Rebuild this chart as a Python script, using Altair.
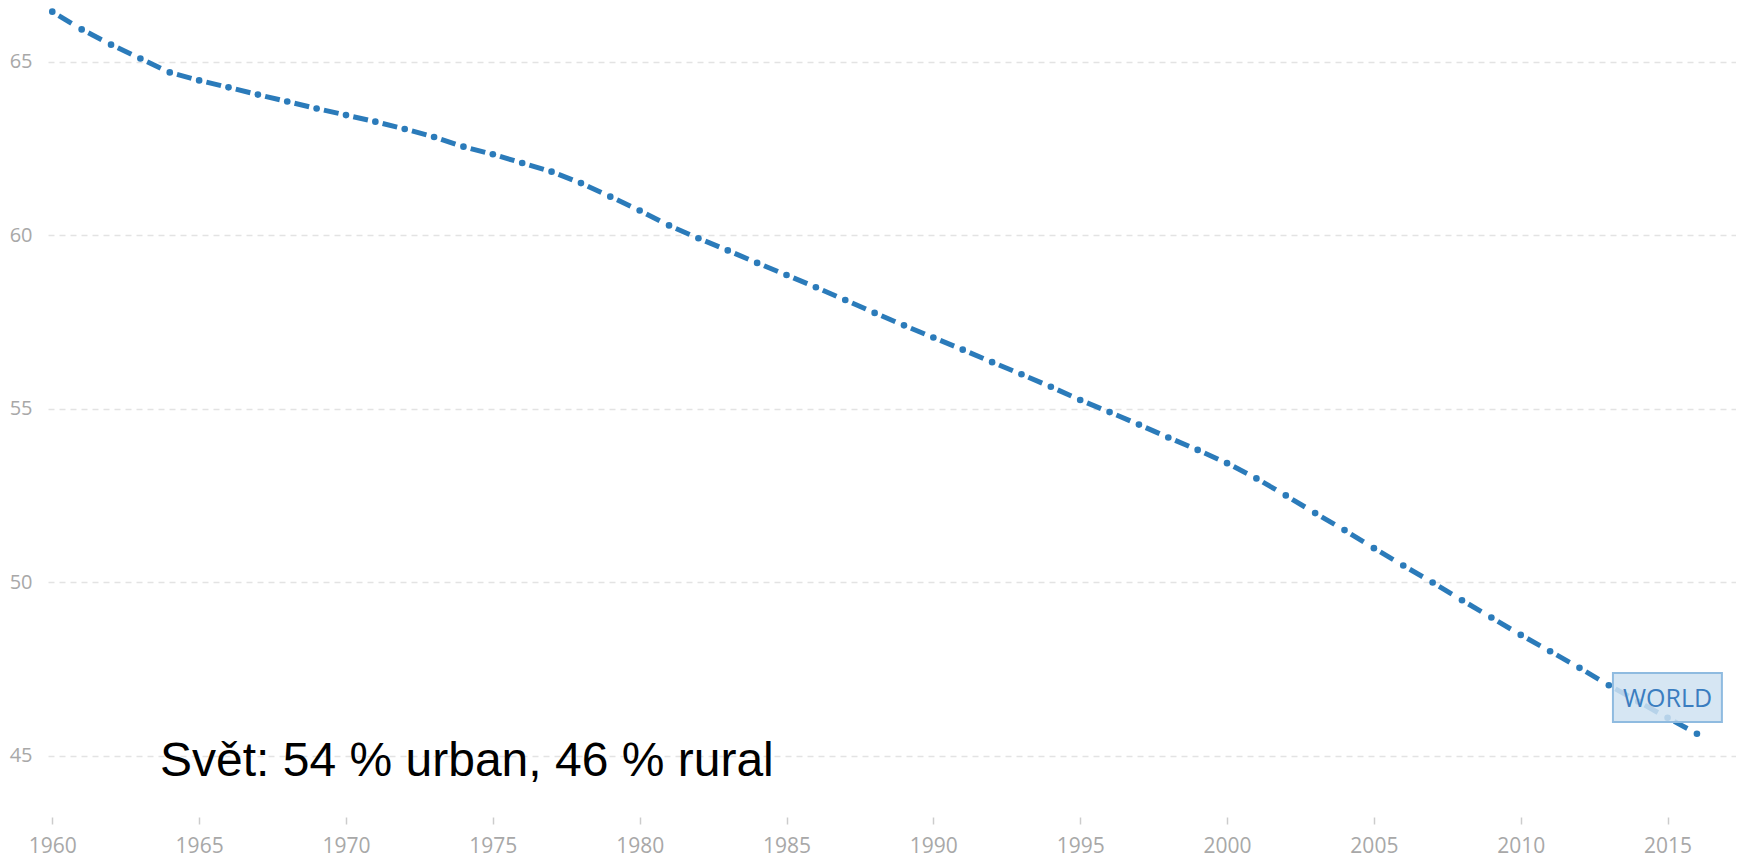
import altair as alt
import pandas as pd

# Rural population (% of total), World
years = list(range(1960, 2017))
rural = [66.45, 65.94, 65.50, 65.10, 64.70, 64.47, 64.27, 64.06, 63.86, 63.66,
         63.47, 63.28, 63.07, 62.84, 62.56, 62.34, 62.09, 61.84, 61.51, 61.12,
         60.72, 60.29, 59.92, 59.57, 59.21, 58.86, 58.51, 58.14, 57.77, 57.41,
         57.06, 56.71, 56.35, 56.00, 55.64, 55.26, 54.91, 54.55, 54.18, 53.82,
         53.44, 53.00, 52.51, 52.00, 51.51, 50.99, 50.49, 50.00, 49.49, 48.99,
         48.49, 48.02, 47.54, 47.04, 46.57, 46.10, 45.64]

x_ticks = list(range(1960, 2016, 5))
y_ticks = [45, 50, 55, 60, 65]

annotation_text = ["Svět: 54 % urban, 46 % rural"]
annotation_year = [1963.67]
annotation_value = [44.435]

series_label = ["WORLD"]
label_year = [2015.0]
label_value = [46.40]
label_box_year = [2013.14]
label_box_year2 = [2016.85]
label_box_value = [45.98]
label_box_value2 = [47.39]

BLUE = "#2b7bba"
GREY = "#a8a8a8"

pts = pd.DataFrame({"year": years, "value": rural})
seg = pd.DataFrame({
    "year": years[:-1], "value": rural[:-1],
    "year2": years[1:], "value2": rural[1:],
})
ann = pd.DataFrame({"year": annotation_year, "value": annotation_value, "text": annotation_text})
lab = pd.DataFrame({"year": label_year, "value": label_value, "text": series_label})
box = pd.DataFrame({"year": label_box_year, "year2": label_box_year2,
                    "value": label_box_value, "value2": label_box_value2})

xscale = alt.Scale(domain=[1959.854, 2017.33], nice=False, zero=False)
yscale = alt.Scale(domain=[43.242, 66.556], nice=False, zero=False)

xaxis = alt.Axis(values=x_ticks, format="d", title=None, grid=False, domain=False,
                 ticks=True, tickSize=7, tickColor="#cccccc", tickWidth=1.5,
                 labelFont="Open Sans", labelFontSize=21, labelColor=GREY,
                 labelPadding=11)
yaxis = alt.Axis(values=y_ticks, format="d", title=None, grid=True, domain=False,
                 ticks=False, tickSize=0, gridColor="#e3e3e3", gridDash=[6, 5],
                 gridWidth=1.5, labelFont="Open Sans", labelFontSize=20,
                 labelColor=GREY, labelPadding=16)

X = alt.X("year:Q", scale=xscale, axis=xaxis)
Y = alt.Y("value:Q", scale=yscale, axis=yaxis)

lines = alt.Chart(seg).mark_rule(
    color=BLUE, strokeWidth=5, strokeDash=[15, 1000], strokeDashOffset=-7.5, strokeCap="butt"
).encode(x=X, y=Y, x2="year2:Q", y2="value2:Q")

dots = alt.Chart(pts).mark_circle(color=BLUE, size=44, opacity=1).encode(x=X, y=Y)

rect = alt.Chart(box).mark_rect(
    fill="#cfe2f1", fillOpacity=0.85, stroke="#8fbbe0", strokeWidth=2
).encode(x=X, x2="year2:Q", y=Y, y2="value2:Q")

wtext = alt.Chart(lab).mark_text(
    font="Open Sans", fontSize=25, color="#3a7dc0", align="center", baseline="alphabetic"
).encode(x=X, y=Y, text="text:N")

atext = alt.Chart(ann).mark_text(
    font="Liberation Sans", fontSize=48, color="#000000", align="left", baseline="alphabetic"
).encode(x=X, y=Y, text="text:N")

chart = alt.layer(lines, dots, rect, wtext, atext).properties(
    width=1688, height=809,
    autosize=alt.AutoSizeParams(type="none"),
    padding={"left": 40, "top": 0, "right": 0, "bottom": 46},
    background="white",
).configure_view(stroke=None)

chart.save("out.html", embed_options={"renderer": "svg", "actions": False})
